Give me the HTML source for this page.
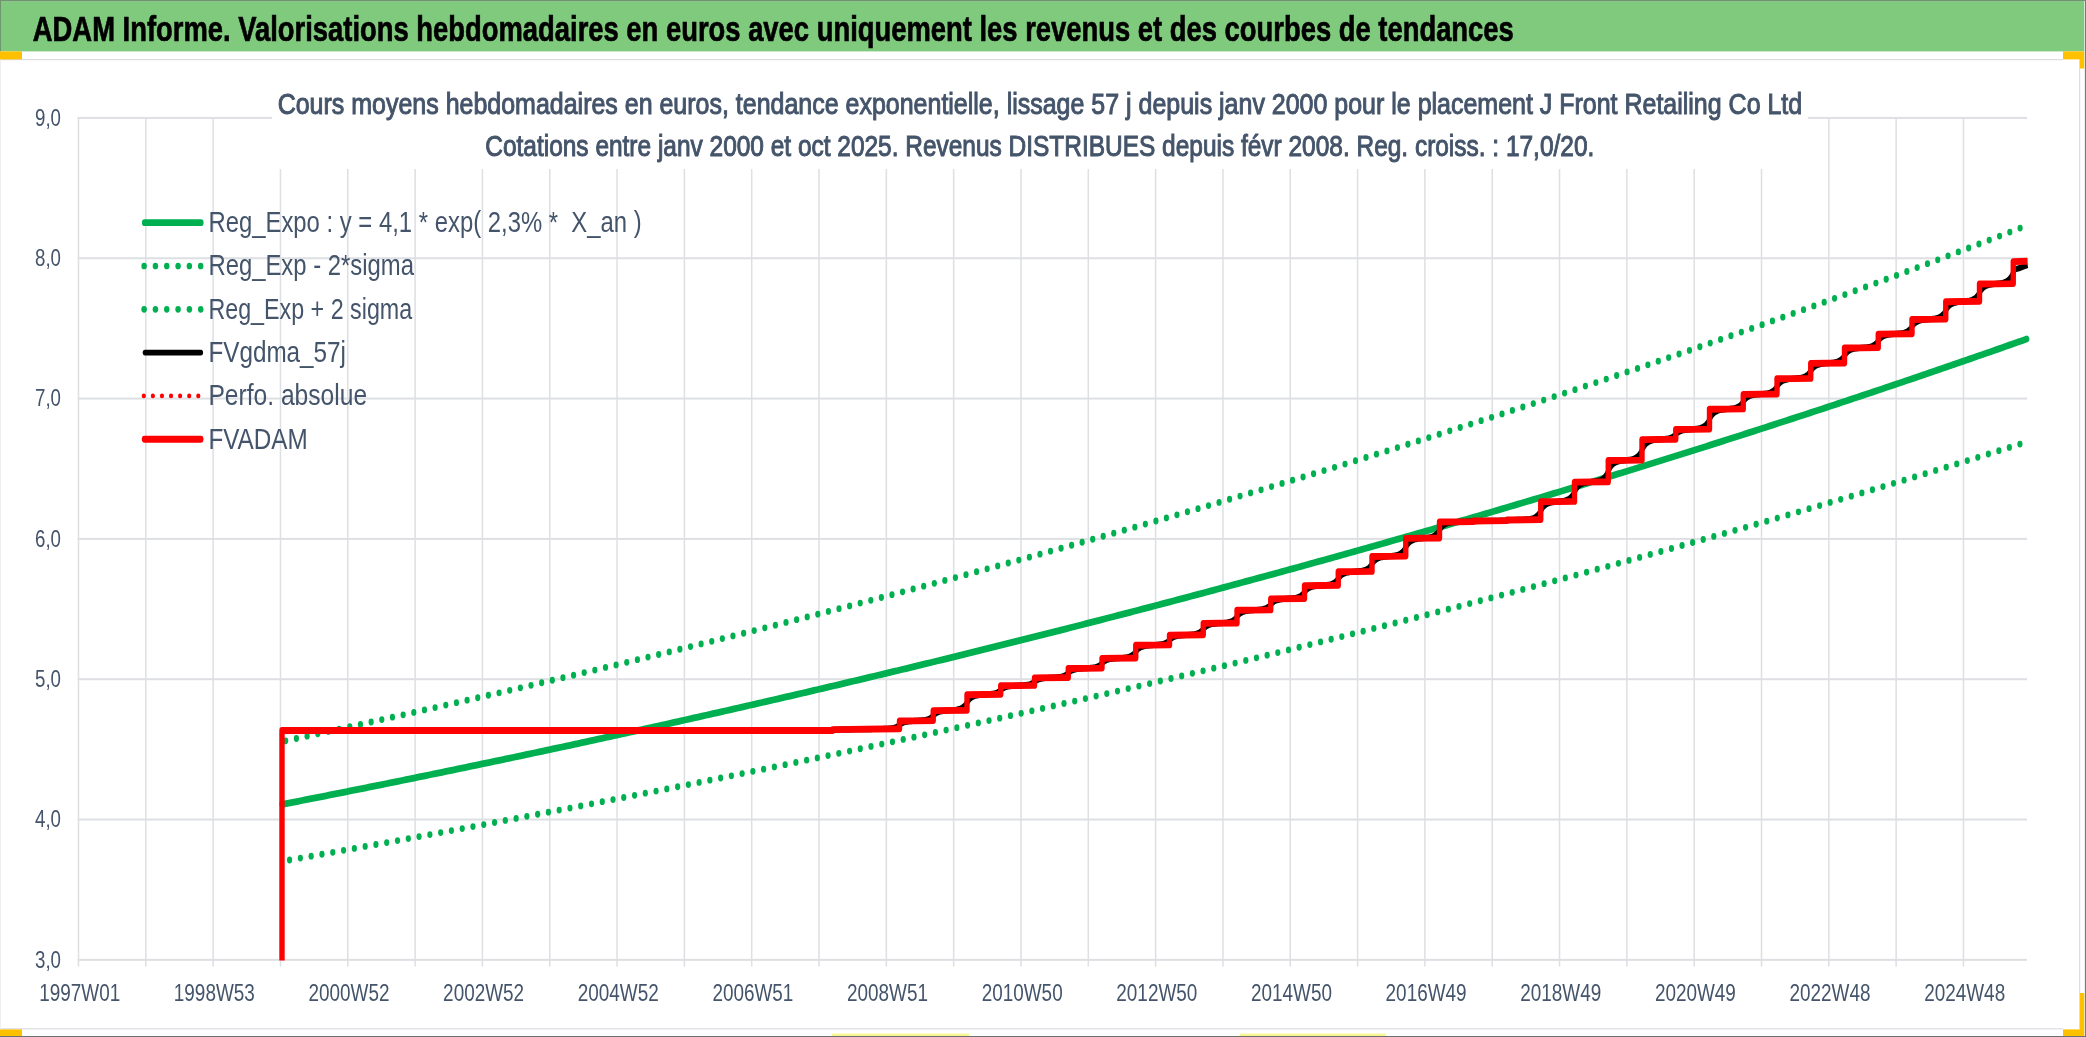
<!DOCTYPE html><html><head><meta charset="utf-8"><style>html,body{margin:0;padding:0;background:#fff;width:2086px;height:1037px;overflow:hidden}svg{display:block;will-change:transform}text{font-family:"Liberation Sans",sans-serif}</style></head><body>
<svg width="2086" height="1037" viewBox="0 0 2086 1037">
<rect x="0" y="0" width="2086" height="1037" fill="#fff"/>
<rect x="0" y="0" width="2085" height="51.4" fill="#80CA7E"/>
<rect x="0" y="0" width="2086" height="1" fill="#6F956F"/>
<rect x="0" y="1" width="2085" height="1" fill="#8FC28F"/>
<rect x="0" y="0" width="1" height="51.4" fill="#6F956F"/>
<text x="32.8" y="40.9" font-size="35.6" font-weight="bold" fill="#000" stroke="#000" stroke-width="0.7" textLength="1481" lengthAdjust="spacingAndGlyphs">ADAM Informe. Valorisations hebdomadaires en euros avec uniquement les revenus et des courbes de tendances</text>
<rect x="0" y="59" width="2063" height="1.2" fill="#DADCE0"/>
<rect x="0" y="1028.2" width="2063" height="1.2" fill="#DADCE0"/>
<rect x="2079" y="59" width="1.2" height="970" fill="#DADCE0"/>
<rect x="0" y="59" width="1" height="970" fill="#EEEEEE"/>
<rect x="0" y="51.4" width="22" height="8" fill="#FFC000"/>
<rect x="0" y="1029.4" width="22" height="6.6" fill="#FFC000"/>
<rect x="2063" y="51.4" width="22" height="8" fill="#FFC000"/>
<rect x="2080" y="59" width="5" height="9.5" fill="#FFC000"/>
<rect x="2063" y="1029.4" width="22" height="6.6" fill="#FFC000"/>
<rect x="2080" y="993" width="5" height="37" fill="#FFC000"/>
<rect x="2084.2" y="1" width="0.8" height="1036" fill="#E9EDE9"/>
<rect x="2085" y="0" width="1" height="1037" fill="#7A7A7A"/>
<rect x="0" y="1036" width="2086" height="1" fill="#6E6E6E"/>
<rect x="77.70" y="958.85" width="1949.30" height="2" fill="#DDDFE3"/>
<rect x="77.70" y="818.53" width="1949.30" height="2" fill="#DDDFE3"/>
<rect x="77.70" y="678.21" width="1949.30" height="2" fill="#DDDFE3"/>
<rect x="77.70" y="537.89" width="1949.30" height="2" fill="#DDDFE3"/>
<rect x="77.70" y="397.57" width="1949.30" height="2" fill="#DDDFE3"/>
<rect x="77.70" y="257.25" width="1949.30" height="2" fill="#DDDFE3"/>
<rect x="77.70" y="116.93" width="1949.30" height="2" fill="#DDDFE3"/>
<rect x="77.75" y="117" width="1.5" height="849.50" fill="#DDDFE3"/>
<rect x="145.07" y="117" width="1.5" height="849.50" fill="#DDDFE3"/>
<rect x="212.39" y="117" width="1.5" height="849.50" fill="#DDDFE3"/>
<rect x="279.71" y="117" width="1.5" height="849.50" fill="#DDDFE3"/>
<rect x="347.03" y="117" width="1.5" height="849.50" fill="#DDDFE3"/>
<rect x="414.35" y="117" width="1.5" height="849.50" fill="#DDDFE3"/>
<rect x="481.67" y="117" width="1.5" height="849.50" fill="#DDDFE3"/>
<rect x="548.99" y="117" width="1.5" height="849.50" fill="#DDDFE3"/>
<rect x="616.31" y="117" width="1.5" height="849.50" fill="#DDDFE3"/>
<rect x="683.63" y="117" width="1.5" height="849.50" fill="#DDDFE3"/>
<rect x="750.95" y="117" width="1.5" height="849.50" fill="#DDDFE3"/>
<rect x="818.27" y="117" width="1.5" height="849.50" fill="#DDDFE3"/>
<rect x="885.59" y="117" width="1.5" height="849.50" fill="#DDDFE3"/>
<rect x="952.91" y="117" width="1.5" height="849.50" fill="#DDDFE3"/>
<rect x="1020.23" y="117" width="1.5" height="849.50" fill="#DDDFE3"/>
<rect x="1087.55" y="117" width="1.5" height="849.50" fill="#DDDFE3"/>
<rect x="1154.87" y="117" width="1.5" height="849.50" fill="#DDDFE3"/>
<rect x="1222.19" y="117" width="1.5" height="849.50" fill="#DDDFE3"/>
<rect x="1289.51" y="117" width="1.5" height="849.50" fill="#DDDFE3"/>
<rect x="1356.83" y="117" width="1.5" height="849.50" fill="#DDDFE3"/>
<rect x="1424.15" y="117" width="1.5" height="849.50" fill="#DDDFE3"/>
<rect x="1491.47" y="117" width="1.5" height="849.50" fill="#DDDFE3"/>
<rect x="1558.79" y="117" width="1.5" height="849.50" fill="#DDDFE3"/>
<rect x="1626.11" y="117" width="1.5" height="849.50" fill="#DDDFE3"/>
<rect x="1693.43" y="117" width="1.5" height="849.50" fill="#DDDFE3"/>
<rect x="1760.75" y="117" width="1.5" height="849.50" fill="#DDDFE3"/>
<rect x="1828.07" y="117" width="1.5" height="849.50" fill="#DDDFE3"/>
<rect x="1895.39" y="117" width="1.5" height="849.50" fill="#DDDFE3"/>
<rect x="1962.71" y="117" width="1.5" height="849.50" fill="#DDDFE3"/>
<rect x="272" y="75" width="1536" height="94" fill="#fff"/>
<text x="277.7" y="113.9" font-size="29.2" font-weight="normal" stroke="#44546A" stroke-width="1.0" fill="#44546A" textLength="1524.5" lengthAdjust="spacingAndGlyphs">Cours moyens hebdomadaires en euros, tendance exponentielle, lissage 57 j depuis janv 2000 pour le placement J Front Retailing Co Ltd</text>
<text x="485.3" y="156.4" font-size="29.2" font-weight="normal" stroke="#44546A" stroke-width="1.0" fill="#44546A" textLength="1109" lengthAdjust="spacingAndGlyphs">Cotations entre janv 2000 et oct 2025. Revenus DISTRIBUES depuis févr 2008. Reg. croiss. : 17,0/20.</text>
<text x="61" y="967.70" font-size="23" fill="#44546A" text-anchor="end" textLength="26" lengthAdjust="spacingAndGlyphs">3,0</text>
<text x="61" y="827.37" font-size="23" fill="#44546A" text-anchor="end" textLength="26" lengthAdjust="spacingAndGlyphs">4,0</text>
<text x="61" y="687.04" font-size="23" fill="#44546A" text-anchor="end" textLength="26" lengthAdjust="spacingAndGlyphs">5,0</text>
<text x="61" y="546.71" font-size="23" fill="#44546A" text-anchor="end" textLength="26" lengthAdjust="spacingAndGlyphs">6,0</text>
<text x="61" y="406.38" font-size="23" fill="#44546A" text-anchor="end" textLength="26" lengthAdjust="spacingAndGlyphs">7,0</text>
<text x="61" y="266.05" font-size="23" fill="#44546A" text-anchor="end" textLength="26" lengthAdjust="spacingAndGlyphs">8,0</text>
<text x="61" y="125.72" font-size="23" fill="#44546A" text-anchor="end" textLength="26" lengthAdjust="spacingAndGlyphs">9,0</text>
<text x="79.70" y="1000.5" font-size="23" fill="#44546A" text-anchor="middle" textLength="81" lengthAdjust="spacingAndGlyphs">1997W01</text>
<text x="214.34" y="1000.5" font-size="23" fill="#44546A" text-anchor="middle" textLength="81" lengthAdjust="spacingAndGlyphs">1998W53</text>
<text x="348.98" y="1000.5" font-size="23" fill="#44546A" text-anchor="middle" textLength="81" lengthAdjust="spacingAndGlyphs">2000W52</text>
<text x="483.62" y="1000.5" font-size="23" fill="#44546A" text-anchor="middle" textLength="81" lengthAdjust="spacingAndGlyphs">2002W52</text>
<text x="618.26" y="1000.5" font-size="23" fill="#44546A" text-anchor="middle" textLength="81" lengthAdjust="spacingAndGlyphs">2004W52</text>
<text x="752.90" y="1000.5" font-size="23" fill="#44546A" text-anchor="middle" textLength="81" lengthAdjust="spacingAndGlyphs">2006W51</text>
<text x="887.54" y="1000.5" font-size="23" fill="#44546A" text-anchor="middle" textLength="81" lengthAdjust="spacingAndGlyphs">2008W51</text>
<text x="1022.18" y="1000.5" font-size="23" fill="#44546A" text-anchor="middle" textLength="81" lengthAdjust="spacingAndGlyphs">2010W50</text>
<text x="1156.82" y="1000.5" font-size="23" fill="#44546A" text-anchor="middle" textLength="81" lengthAdjust="spacingAndGlyphs">2012W50</text>
<text x="1291.46" y="1000.5" font-size="23" fill="#44546A" text-anchor="middle" textLength="81" lengthAdjust="spacingAndGlyphs">2014W50</text>
<text x="1426.10" y="1000.5" font-size="23" fill="#44546A" text-anchor="middle" textLength="81" lengthAdjust="spacingAndGlyphs">2016W49</text>
<text x="1560.74" y="1000.5" font-size="23" fill="#44546A" text-anchor="middle" textLength="81" lengthAdjust="spacingAndGlyphs">2018W49</text>
<text x="1695.38" y="1000.5" font-size="23" fill="#44546A" text-anchor="middle" textLength="81" lengthAdjust="spacingAndGlyphs">2020W49</text>
<text x="1830.02" y="1000.5" font-size="23" fill="#44546A" text-anchor="middle" textLength="81" lengthAdjust="spacingAndGlyphs">2022W48</text>
<text x="1964.66" y="1000.5" font-size="23" fill="#44546A" text-anchor="middle" textLength="81" lengthAdjust="spacingAndGlyphs">2024W48</text>
<g fill="#00B050">
<ellipse cx="285.70" cy="740.82" rx="2.6" ry="3.4"/><ellipse cx="296.40" cy="738.49" rx="2.6" ry="3.4"/><ellipse cx="307.10" cy="736.15" rx="2.6" ry="3.4"/><ellipse cx="317.75" cy="733.82" rx="2.6" ry="3.4"/><ellipse cx="328.45" cy="731.47" rx="2.6" ry="3.4"/><ellipse cx="339.10" cy="729.12" rx="2.6" ry="3.4"/><ellipse cx="349.80" cy="726.75" rx="2.6" ry="3.4"/><ellipse cx="360.45" cy="724.38" rx="2.6" ry="3.4"/><ellipse cx="371.15" cy="721.99" rx="2.6" ry="3.4"/><ellipse cx="381.80" cy="719.61" rx="2.6" ry="3.4"/><ellipse cx="392.45" cy="717.21" rx="2.6" ry="3.4"/><ellipse cx="403.15" cy="714.80" rx="2.6" ry="3.4"/><ellipse cx="413.80" cy="712.39" rx="2.6" ry="3.4"/><ellipse cx="424.45" cy="709.97" rx="2.6" ry="3.4"/><ellipse cx="435.10" cy="707.54" rx="2.6" ry="3.4"/><ellipse cx="445.80" cy="705.09" rx="2.6" ry="3.4"/><ellipse cx="456.45" cy="702.65" rx="2.6" ry="3.4"/><ellipse cx="467.10" cy="700.19" rx="2.6" ry="3.4"/><ellipse cx="477.75" cy="697.73" rx="2.6" ry="3.4"/><ellipse cx="488.40" cy="695.26" rx="2.6" ry="3.4"/><ellipse cx="499.05" cy="692.78" rx="2.6" ry="3.4"/><ellipse cx="509.70" cy="690.28" rx="2.6" ry="3.4"/><ellipse cx="520.35" cy="687.79" rx="2.6" ry="3.4"/><ellipse cx="531.00" cy="685.28" rx="2.6" ry="3.4"/><ellipse cx="541.65" cy="682.76" rx="2.6" ry="3.4"/><ellipse cx="552.30" cy="680.23" rx="2.6" ry="3.4"/><ellipse cx="562.95" cy="677.70" rx="2.6" ry="3.4"/><ellipse cx="573.55" cy="675.16" rx="2.6" ry="3.4"/><ellipse cx="584.20" cy="672.61" rx="2.6" ry="3.4"/><ellipse cx="594.85" cy="670.05" rx="2.6" ry="3.4"/><ellipse cx="605.50" cy="667.47" rx="2.6" ry="3.4"/><ellipse cx="616.10" cy="664.90" rx="2.6" ry="3.4"/><ellipse cx="626.75" cy="662.31" rx="2.6" ry="3.4"/><ellipse cx="637.40" cy="659.71" rx="2.6" ry="3.4"/><ellipse cx="648.00" cy="657.11" rx="2.6" ry="3.4"/><ellipse cx="658.65" cy="654.49" rx="2.6" ry="3.4"/><ellipse cx="669.25" cy="651.88" rx="2.6" ry="3.4"/><ellipse cx="679.90" cy="649.24" rx="2.6" ry="3.4"/><ellipse cx="690.50" cy="646.60" rx="2.6" ry="3.4"/><ellipse cx="701.10" cy="643.96" rx="2.6" ry="3.4"/><ellipse cx="711.75" cy="641.29" rx="2.6" ry="3.4"/><ellipse cx="722.35" cy="638.62" rx="2.6" ry="3.4"/><ellipse cx="732.95" cy="635.95" rx="2.6" ry="3.4"/><ellipse cx="743.60" cy="633.25" rx="2.6" ry="3.4"/><ellipse cx="754.20" cy="630.56" rx="2.6" ry="3.4"/><ellipse cx="764.80" cy="627.86" rx="2.6" ry="3.4"/><ellipse cx="775.40" cy="625.15" rx="2.6" ry="3.4"/><ellipse cx="786.00" cy="622.42" rx="2.6" ry="3.4"/><ellipse cx="796.60" cy="619.69" rx="2.6" ry="3.4"/><ellipse cx="807.20" cy="616.95" rx="2.6" ry="3.4"/><ellipse cx="817.80" cy="614.20" rx="2.6" ry="3.4"/><ellipse cx="828.40" cy="611.43" rx="2.6" ry="3.4"/><ellipse cx="839.00" cy="608.66" rx="2.6" ry="3.4"/><ellipse cx="849.60" cy="605.88" rx="2.6" ry="3.4"/><ellipse cx="860.20" cy="603.09" rx="2.6" ry="3.4"/><ellipse cx="870.80" cy="600.29" rx="2.6" ry="3.4"/><ellipse cx="881.35" cy="597.49" rx="2.6" ry="3.4"/><ellipse cx="891.95" cy="594.67" rx="2.6" ry="3.4"/><ellipse cx="902.55" cy="591.83" rx="2.6" ry="3.4"/><ellipse cx="913.10" cy="589.00" rx="2.6" ry="3.4"/><ellipse cx="923.70" cy="586.15" rx="2.6" ry="3.4"/><ellipse cx="934.30" cy="583.29" rx="2.6" ry="3.4"/><ellipse cx="944.85" cy="580.43" rx="2.6" ry="3.4"/><ellipse cx="955.40" cy="577.56" rx="2.6" ry="3.4"/><ellipse cx="966.00" cy="574.66" rx="2.6" ry="3.4"/><ellipse cx="976.55" cy="571.77" rx="2.6" ry="3.4"/><ellipse cx="987.15" cy="568.86" rx="2.6" ry="3.4"/><ellipse cx="997.70" cy="565.95" rx="2.6" ry="3.4"/><ellipse cx="1008.25" cy="563.02" rx="2.6" ry="3.4"/><ellipse cx="1018.80" cy="560.09" rx="2.6" ry="3.4"/><ellipse cx="1029.40" cy="557.13" rx="2.6" ry="3.4"/><ellipse cx="1039.95" cy="554.18" rx="2.6" ry="3.4"/><ellipse cx="1050.50" cy="551.22" rx="2.6" ry="3.4"/><ellipse cx="1061.05" cy="548.24" rx="2.6" ry="3.4"/><ellipse cx="1071.60" cy="545.26" rx="2.6" ry="3.4"/><ellipse cx="1082.15" cy="542.26" rx="2.6" ry="3.4"/><ellipse cx="1092.70" cy="539.25" rx="2.6" ry="3.4"/><ellipse cx="1103.20" cy="536.25" rx="2.6" ry="3.4"/><ellipse cx="1113.75" cy="533.22" rx="2.6" ry="3.4"/><ellipse cx="1124.30" cy="530.18" rx="2.6" ry="3.4"/><ellipse cx="1134.85" cy="527.13" rx="2.6" ry="3.4"/><ellipse cx="1145.35" cy="524.08" rx="2.6" ry="3.4"/><ellipse cx="1155.90" cy="521.01" rx="2.6" ry="3.4"/><ellipse cx="1166.40" cy="517.94" rx="2.6" ry="3.4"/><ellipse cx="1176.95" cy="514.85" rx="2.6" ry="3.4"/><ellipse cx="1187.45" cy="511.76" rx="2.6" ry="3.4"/><ellipse cx="1198.00" cy="508.64" rx="2.6" ry="3.4"/><ellipse cx="1208.50" cy="505.53" rx="2.6" ry="3.4"/><ellipse cx="1219.05" cy="502.39" rx="2.6" ry="3.4"/><ellipse cx="1229.55" cy="499.26" rx="2.6" ry="3.4"/><ellipse cx="1240.05" cy="496.11" rx="2.6" ry="3.4"/><ellipse cx="1250.55" cy="492.95" rx="2.6" ry="3.4"/><ellipse cx="1261.05" cy="489.78" rx="2.6" ry="3.4"/><ellipse cx="1271.55" cy="486.60" rx="2.6" ry="3.4"/><ellipse cx="1282.05" cy="483.41" rx="2.6" ry="3.4"/><ellipse cx="1292.55" cy="480.21" rx="2.6" ry="3.4"/><ellipse cx="1303.05" cy="476.99" rx="2.6" ry="3.4"/><ellipse cx="1313.55" cy="473.77" rx="2.6" ry="3.4"/><ellipse cx="1324.05" cy="470.53" rx="2.6" ry="3.4"/><ellipse cx="1334.55" cy="467.28" rx="2.6" ry="3.4"/><ellipse cx="1345.00" cy="464.04" rx="2.6" ry="3.4"/><ellipse cx="1355.50" cy="460.77" rx="2.6" ry="3.4"/><ellipse cx="1366.00" cy="457.48" rx="2.6" ry="3.4"/><ellipse cx="1376.45" cy="454.20" rx="2.6" ry="3.4"/><ellipse cx="1386.95" cy="450.90" rx="2.6" ry="3.4"/><ellipse cx="1397.40" cy="447.59" rx="2.6" ry="3.4"/><ellipse cx="1407.90" cy="444.26" rx="2.6" ry="3.4"/><ellipse cx="1418.35" cy="440.93" rx="2.6" ry="3.4"/><ellipse cx="1428.80" cy="437.60" rx="2.6" ry="3.4"/><ellipse cx="1439.25" cy="434.25" rx="2.6" ry="3.4"/><ellipse cx="1449.75" cy="430.87" rx="2.6" ry="3.4"/><ellipse cx="1460.20" cy="427.49" rx="2.6" ry="3.4"/><ellipse cx="1470.65" cy="424.11" rx="2.6" ry="3.4"/><ellipse cx="1481.10" cy="420.71" rx="2.6" ry="3.4"/><ellipse cx="1491.55" cy="417.30" rx="2.6" ry="3.4"/><ellipse cx="1502.00" cy="413.88" rx="2.6" ry="3.4"/><ellipse cx="1512.40" cy="410.46" rx="2.6" ry="3.4"/><ellipse cx="1522.85" cy="407.01" rx="2.6" ry="3.4"/><ellipse cx="1533.30" cy="403.55" rx="2.6" ry="3.4"/><ellipse cx="1543.70" cy="400.10" rx="2.6" ry="3.4"/><ellipse cx="1554.15" cy="396.61" rx="2.6" ry="3.4"/><ellipse cx="1564.60" cy="393.12" rx="2.6" ry="3.4"/><ellipse cx="1575.00" cy="389.63" rx="2.6" ry="3.4"/><ellipse cx="1585.40" cy="386.12" rx="2.6" ry="3.4"/><ellipse cx="1595.85" cy="382.59" rx="2.6" ry="3.4"/><ellipse cx="1606.25" cy="379.06" rx="2.6" ry="3.4"/><ellipse cx="1616.65" cy="375.52" rx="2.6" ry="3.4"/><ellipse cx="1627.05" cy="371.96" rx="2.6" ry="3.4"/><ellipse cx="1637.50" cy="368.38" rx="2.6" ry="3.4"/><ellipse cx="1647.90" cy="364.80" rx="2.6" ry="3.4"/><ellipse cx="1658.30" cy="361.21" rx="2.6" ry="3.4"/><ellipse cx="1668.65" cy="357.62" rx="2.6" ry="3.4"/><ellipse cx="1679.05" cy="354.01" rx="2.6" ry="3.4"/><ellipse cx="1689.45" cy="350.38" rx="2.6" ry="3.4"/><ellipse cx="1699.85" cy="346.73" rx="2.6" ry="3.4"/><ellipse cx="1710.20" cy="343.10" rx="2.6" ry="3.4"/><ellipse cx="1720.60" cy="339.43" rx="2.6" ry="3.4"/><ellipse cx="1730.95" cy="335.76" rx="2.6" ry="3.4"/><ellipse cx="1741.35" cy="332.07" rx="2.6" ry="3.4"/><ellipse cx="1751.70" cy="328.38" rx="2.6" ry="3.4"/><ellipse cx="1762.10" cy="324.66" rx="2.6" ry="3.4"/><ellipse cx="1772.45" cy="320.94" rx="2.6" ry="3.4"/><ellipse cx="1782.80" cy="317.21" rx="2.6" ry="3.4"/><ellipse cx="1793.15" cy="313.47" rx="2.6" ry="3.4"/><ellipse cx="1803.50" cy="309.72" rx="2.6" ry="3.4"/><ellipse cx="1813.85" cy="305.95" rx="2.6" ry="3.4"/><ellipse cx="1824.20" cy="302.17" rx="2.6" ry="3.4"/><ellipse cx="1834.55" cy="298.37" rx="2.6" ry="3.4"/><ellipse cx="1844.90" cy="294.56" rx="2.6" ry="3.4"/><ellipse cx="1855.20" cy="290.76" rx="2.6" ry="3.4"/><ellipse cx="1865.55" cy="286.93" rx="2.6" ry="3.4"/><ellipse cx="1875.90" cy="283.08" rx="2.6" ry="3.4"/><ellipse cx="1886.20" cy="279.23" rx="2.6" ry="3.4"/><ellipse cx="1896.50" cy="275.38" rx="2.6" ry="3.4"/><ellipse cx="1906.85" cy="271.49" rx="2.6" ry="3.4"/><ellipse cx="1917.15" cy="267.60" rx="2.6" ry="3.4"/><ellipse cx="1927.45" cy="263.71" rx="2.6" ry="3.4"/><ellipse cx="1937.75" cy="259.80" rx="2.6" ry="3.4"/><ellipse cx="1948.05" cy="255.87" rx="2.6" ry="3.4"/><ellipse cx="1958.35" cy="251.93" rx="2.6" ry="3.4"/><ellipse cx="1968.65" cy="247.98" rx="2.6" ry="3.4"/><ellipse cx="1978.95" cy="244.01" rx="2.6" ry="3.4"/><ellipse cx="1989.25" cy="240.03" rx="2.6" ry="3.4"/><ellipse cx="1999.55" cy="236.04" rx="2.6" ry="3.4"/><ellipse cx="2009.80" cy="232.05" rx="2.6" ry="3.4"/><ellipse cx="2020.10" cy="228.03" rx="2.6" ry="3.4"/>
<ellipse cx="289.56" cy="860.00" rx="2.6" ry="3.4"/><ellipse cx="300.36" cy="858.09" rx="2.6" ry="3.4"/><ellipse cx="311.16" cy="856.17" rx="2.6" ry="3.4"/><ellipse cx="321.96" cy="854.25" rx="2.6" ry="3.4"/><ellipse cx="332.76" cy="852.31" rx="2.6" ry="3.4"/><ellipse cx="343.56" cy="850.37" rx="2.6" ry="3.4"/><ellipse cx="354.36" cy="848.43" rx="2.6" ry="3.4"/><ellipse cx="365.16" cy="846.47" rx="2.6" ry="3.4"/><ellipse cx="375.91" cy="844.52" rx="2.6" ry="3.4"/><ellipse cx="386.71" cy="842.55" rx="2.6" ry="3.4"/><ellipse cx="397.51" cy="840.58" rx="2.6" ry="3.4"/><ellipse cx="408.31" cy="838.59" rx="2.6" ry="3.4"/><ellipse cx="419.06" cy="836.61" rx="2.6" ry="3.4"/><ellipse cx="429.86" cy="834.62" rx="2.6" ry="3.4"/><ellipse cx="440.66" cy="832.61" rx="2.6" ry="3.4"/><ellipse cx="451.41" cy="830.61" rx="2.6" ry="3.4"/><ellipse cx="462.21" cy="828.59" rx="2.6" ry="3.4"/><ellipse cx="472.96" cy="826.57" rx="2.6" ry="3.4"/><ellipse cx="483.76" cy="824.54" rx="2.6" ry="3.4"/><ellipse cx="494.56" cy="822.49" rx="2.6" ry="3.4"/><ellipse cx="505.31" cy="820.46" rx="2.6" ry="3.4"/><ellipse cx="516.11" cy="818.40" rx="2.6" ry="3.4"/><ellipse cx="526.86" cy="816.34" rx="2.6" ry="3.4"/><ellipse cx="537.66" cy="814.27" rx="2.6" ry="3.4"/><ellipse cx="548.41" cy="812.20" rx="2.6" ry="3.4"/><ellipse cx="559.16" cy="810.12" rx="2.6" ry="3.4"/><ellipse cx="569.96" cy="808.03" rx="2.6" ry="3.4"/><ellipse cx="580.71" cy="805.94" rx="2.6" ry="3.4"/><ellipse cx="591.51" cy="803.83" rx="2.6" ry="3.4"/><ellipse cx="602.26" cy="801.72" rx="2.6" ry="3.4"/><ellipse cx="613.01" cy="799.60" rx="2.6" ry="3.4"/><ellipse cx="623.76" cy="797.48" rx="2.6" ry="3.4"/><ellipse cx="634.56" cy="795.34" rx="2.6" ry="3.4"/><ellipse cx="645.31" cy="793.20" rx="2.6" ry="3.4"/><ellipse cx="656.06" cy="791.05" rx="2.6" ry="3.4"/><ellipse cx="666.81" cy="788.90" rx="2.6" ry="3.4"/><ellipse cx="677.61" cy="786.73" rx="2.6" ry="3.4"/><ellipse cx="688.36" cy="784.56" rx="2.6" ry="3.4"/><ellipse cx="699.11" cy="782.38" rx="2.6" ry="3.4"/><ellipse cx="709.86" cy="780.19" rx="2.6" ry="3.4"/><ellipse cx="720.61" cy="778.00" rx="2.6" ry="3.4"/><ellipse cx="731.36" cy="775.79" rx="2.6" ry="3.4"/><ellipse cx="742.11" cy="773.58" rx="2.6" ry="3.4"/><ellipse cx="752.86" cy="771.36" rx="2.6" ry="3.4"/><ellipse cx="763.61" cy="769.14" rx="2.6" ry="3.4"/><ellipse cx="774.36" cy="766.90" rx="2.6" ry="3.4"/><ellipse cx="785.11" cy="764.66" rx="2.6" ry="3.4"/><ellipse cx="795.86" cy="762.41" rx="2.6" ry="3.4"/><ellipse cx="806.61" cy="760.15" rx="2.6" ry="3.4"/><ellipse cx="817.31" cy="757.89" rx="2.6" ry="3.4"/><ellipse cx="828.06" cy="755.62" rx="2.6" ry="3.4"/><ellipse cx="838.81" cy="753.33" rx="2.6" ry="3.4"/><ellipse cx="849.56" cy="751.04" rx="2.6" ry="3.4"/><ellipse cx="860.26" cy="748.75" rx="2.6" ry="3.4"/><ellipse cx="871.01" cy="746.44" rx="2.6" ry="3.4"/><ellipse cx="881.76" cy="744.12" rx="2.6" ry="3.4"/><ellipse cx="892.46" cy="741.81" rx="2.6" ry="3.4"/><ellipse cx="903.21" cy="739.47" rx="2.6" ry="3.4"/><ellipse cx="913.96" cy="737.13" rx="2.6" ry="3.4"/><ellipse cx="924.66" cy="734.79" rx="2.6" ry="3.4"/><ellipse cx="935.41" cy="732.43" rx="2.6" ry="3.4"/><ellipse cx="946.11" cy="730.07" rx="2.6" ry="3.4"/><ellipse cx="956.86" cy="727.69" rx="2.6" ry="3.4"/><ellipse cx="967.56" cy="725.32" rx="2.6" ry="3.4"/><ellipse cx="978.31" cy="722.92" rx="2.6" ry="3.4"/><ellipse cx="989.01" cy="720.53" rx="2.6" ry="3.4"/><ellipse cx="999.71" cy="718.13" rx="2.6" ry="3.4"/><ellipse cx="1010.46" cy="715.71" rx="2.6" ry="3.4"/><ellipse cx="1021.16" cy="713.29" rx="2.6" ry="3.4"/><ellipse cx="1031.86" cy="710.86" rx="2.6" ry="3.4"/><ellipse cx="1042.56" cy="708.43" rx="2.6" ry="3.4"/><ellipse cx="1053.31" cy="705.97" rx="2.6" ry="3.4"/><ellipse cx="1064.01" cy="703.51" rx="2.6" ry="3.4"/><ellipse cx="1074.71" cy="701.05" rx="2.6" ry="3.4"/><ellipse cx="1085.41" cy="698.58" rx="2.6" ry="3.4"/><ellipse cx="1096.11" cy="696.10" rx="2.6" ry="3.4"/><ellipse cx="1106.81" cy="693.61" rx="2.6" ry="3.4"/><ellipse cx="1117.51" cy="691.11" rx="2.6" ry="3.4"/><ellipse cx="1128.21" cy="688.60" rx="2.6" ry="3.4"/><ellipse cx="1138.91" cy="686.08" rx="2.6" ry="3.4"/><ellipse cx="1149.61" cy="683.56" rx="2.6" ry="3.4"/><ellipse cx="1160.31" cy="681.02" rx="2.6" ry="3.4"/><ellipse cx="1171.01" cy="678.48" rx="2.6" ry="3.4"/><ellipse cx="1181.66" cy="675.93" rx="2.6" ry="3.4"/><ellipse cx="1192.36" cy="673.37" rx="2.6" ry="3.4"/><ellipse cx="1203.06" cy="670.80" rx="2.6" ry="3.4"/><ellipse cx="1213.76" cy="668.22" rx="2.6" ry="3.4"/><ellipse cx="1224.41" cy="665.64" rx="2.6" ry="3.4"/><ellipse cx="1235.11" cy="663.03" rx="2.6" ry="3.4"/><ellipse cx="1245.81" cy="660.42" rx="2.6" ry="3.4"/><ellipse cx="1256.46" cy="657.82" rx="2.6" ry="3.4"/><ellipse cx="1267.16" cy="655.19" rx="2.6" ry="3.4"/><ellipse cx="1277.81" cy="652.56" rx="2.6" ry="3.4"/><ellipse cx="1288.51" cy="649.91" rx="2.6" ry="3.4"/><ellipse cx="1299.16" cy="647.27" rx="2.6" ry="3.4"/><ellipse cx="1309.86" cy="644.60" rx="2.6" ry="3.4"/><ellipse cx="1320.51" cy="641.93" rx="2.6" ry="3.4"/><ellipse cx="1331.16" cy="639.26" rx="2.6" ry="3.4"/><ellipse cx="1341.81" cy="636.57" rx="2.6" ry="3.4"/><ellipse cx="1352.51" cy="633.87" rx="2.6" ry="3.4"/><ellipse cx="1363.16" cy="631.16" rx="2.6" ry="3.4"/><ellipse cx="1373.81" cy="628.45" rx="2.6" ry="3.4"/><ellipse cx="1384.46" cy="625.73" rx="2.6" ry="3.4"/><ellipse cx="1395.11" cy="622.99" rx="2.6" ry="3.4"/><ellipse cx="1405.76" cy="620.25" rx="2.6" ry="3.4"/><ellipse cx="1416.41" cy="617.50" rx="2.6" ry="3.4"/><ellipse cx="1427.06" cy="614.73" rx="2.6" ry="3.4"/><ellipse cx="1437.71" cy="611.96" rx="2.6" ry="3.4"/><ellipse cx="1448.36" cy="609.18" rx="2.6" ry="3.4"/><ellipse cx="1459.01" cy="606.38" rx="2.6" ry="3.4"/><ellipse cx="1469.66" cy="603.58" rx="2.6" ry="3.4"/><ellipse cx="1480.31" cy="600.77" rx="2.6" ry="3.4"/><ellipse cx="1490.91" cy="597.96" rx="2.6" ry="3.4"/><ellipse cx="1501.56" cy="595.12" rx="2.6" ry="3.4"/><ellipse cx="1512.21" cy="592.28" rx="2.6" ry="3.4"/><ellipse cx="1522.81" cy="589.44" rx="2.6" ry="3.4"/><ellipse cx="1533.46" cy="586.57" rx="2.6" ry="3.4"/><ellipse cx="1544.11" cy="583.70" rx="2.6" ry="3.4"/><ellipse cx="1554.71" cy="580.83" rx="2.6" ry="3.4"/><ellipse cx="1565.31" cy="577.94" rx="2.6" ry="3.4"/><ellipse cx="1575.96" cy="575.04" rx="2.6" ry="3.4"/><ellipse cx="1586.56" cy="572.14" rx="2.6" ry="3.4"/><ellipse cx="1597.21" cy="569.21" rx="2.6" ry="3.4"/><ellipse cx="1607.81" cy="566.28" rx="2.6" ry="3.4"/><ellipse cx="1618.41" cy="563.35" rx="2.6" ry="3.4"/><ellipse cx="1629.01" cy="560.40" rx="2.6" ry="3.4"/><ellipse cx="1639.61" cy="557.45" rx="2.6" ry="3.4"/><ellipse cx="1650.26" cy="554.47" rx="2.6" ry="3.4"/><ellipse cx="1660.86" cy="551.49" rx="2.6" ry="3.4"/><ellipse cx="1671.46" cy="548.50" rx="2.6" ry="3.4"/><ellipse cx="1682.06" cy="545.50" rx="2.6" ry="3.4"/><ellipse cx="1692.61" cy="542.51" rx="2.6" ry="3.4"/><ellipse cx="1703.21" cy="539.49" rx="2.6" ry="3.4"/><ellipse cx="1713.81" cy="536.46" rx="2.6" ry="3.4"/><ellipse cx="1724.41" cy="533.41" rx="2.6" ry="3.4"/><ellipse cx="1735.01" cy="530.36" rx="2.6" ry="3.4"/><ellipse cx="1745.56" cy="527.31" rx="2.6" ry="3.4"/><ellipse cx="1756.16" cy="524.24" rx="2.6" ry="3.4"/><ellipse cx="1766.76" cy="521.15" rx="2.6" ry="3.4"/><ellipse cx="1777.31" cy="518.07" rx="2.6" ry="3.4"/><ellipse cx="1787.91" cy="514.96" rx="2.6" ry="3.4"/><ellipse cx="1798.46" cy="511.85" rx="2.6" ry="3.4"/><ellipse cx="1809.06" cy="508.72" rx="2.6" ry="3.4"/><ellipse cx="1819.61" cy="505.60" rx="2.6" ry="3.4"/><ellipse cx="1830.16" cy="502.46" rx="2.6" ry="3.4"/><ellipse cx="1840.71" cy="499.31" rx="2.6" ry="3.4"/><ellipse cx="1851.31" cy="496.13" rx="2.6" ry="3.4"/><ellipse cx="1861.86" cy="492.96" rx="2.6" ry="3.4"/><ellipse cx="1872.41" cy="489.77" rx="2.6" ry="3.4"/><ellipse cx="1882.96" cy="486.58" rx="2.6" ry="3.4"/><ellipse cx="1893.51" cy="483.37" rx="2.6" ry="3.4"/><ellipse cx="1904.06" cy="480.15" rx="2.6" ry="3.4"/><ellipse cx="1914.61" cy="476.92" rx="2.6" ry="3.4"/><ellipse cx="1925.16" cy="473.68" rx="2.6" ry="3.4"/><ellipse cx="1935.66" cy="470.45" rx="2.6" ry="3.4"/><ellipse cx="1946.21" cy="467.18" rx="2.6" ry="3.4"/><ellipse cx="1956.76" cy="463.90" rx="2.6" ry="3.4"/><ellipse cx="1967.31" cy="460.62" rx="2.6" ry="3.4"/><ellipse cx="1977.81" cy="457.33" rx="2.6" ry="3.4"/><ellipse cx="1988.36" cy="454.02" rx="2.6" ry="3.4"/><ellipse cx="1998.86" cy="450.71" rx="2.6" ry="3.4"/><ellipse cx="2009.36" cy="447.39" rx="2.6" ry="3.4"/><ellipse cx="2019.91" cy="444.05" rx="2.6" ry="3.4"/>
<ellipse cx="144.10" cy="266.0" rx="2.75" ry="3.35"/><ellipse cx="155.42" cy="266.0" rx="2.75" ry="3.35"/><ellipse cx="166.74" cy="266.0" rx="2.75" ry="3.35"/><ellipse cx="178.06" cy="266.0" rx="2.75" ry="3.35"/><ellipse cx="189.38" cy="266.0" rx="2.75" ry="3.35"/><ellipse cx="200.70" cy="266.0" rx="2.75" ry="3.35"/>
<ellipse cx="144.10" cy="309.3" rx="2.75" ry="3.35"/><ellipse cx="155.42" cy="309.3" rx="2.75" ry="3.35"/><ellipse cx="166.74" cy="309.3" rx="2.75" ry="3.35"/><ellipse cx="178.06" cy="309.3" rx="2.75" ry="3.35"/><ellipse cx="189.38" cy="309.3" rx="2.75" ry="3.35"/><ellipse cx="200.70" cy="309.3" rx="2.75" ry="3.35"/>
</g>
<g fill="#FF0000"><ellipse cx="143.80" cy="395.9" rx="2.1" ry="2.3"/><ellipse cx="152.88" cy="395.9" rx="2.1" ry="2.3"/><ellipse cx="161.96" cy="395.9" rx="2.1" ry="2.3"/><ellipse cx="171.04" cy="395.9" rx="2.1" ry="2.3"/><ellipse cx="180.12" cy="395.9" rx="2.1" ry="2.3"/><ellipse cx="189.20" cy="395.9" rx="2.1" ry="2.3"/><ellipse cx="198.28" cy="395.9" rx="2.1" ry="2.3"/></g>
<g transform="scale(0.78,1)" fill="none" stroke-linejoin="round">
<path d="M361.54,804.44 L366.67,803.65 L371.79,802.87 L376.92,802.08 L382.05,801.30 L387.18,800.51 L392.31,799.72 L397.44,798.93 L402.56,798.14 L407.69,797.35 L412.82,796.56 L417.95,795.77 L423.08,794.97 L428.21,794.18 L433.33,793.38 L438.46,792.58 L443.59,791.78 L448.72,790.98 L453.85,790.18 L458.97,789.38 L464.10,788.58 L469.23,787.77 L474.36,786.97 L479.49,786.16 L484.62,785.36 L489.74,784.55 L494.87,783.74 L500.00,782.93 L505.13,782.11 L510.26,781.30 L515.38,780.49 L520.51,779.67 L525.64,778.86 L530.77,778.04 L535.90,777.22 L541.03,776.40 L546.15,775.58 L551.28,774.76 L556.41,773.94 L561.54,773.11 L566.67,772.29 L571.79,771.46 L576.92,770.63 L582.05,769.80 L587.18,768.97 L592.31,768.14 L597.44,767.31 L602.56,766.48 L607.69,765.64 L612.82,764.81 L617.95,763.97 L623.08,763.13 L628.21,762.30 L633.33,761.46 L638.46,760.61 L643.59,759.77 L648.72,758.93 L653.85,758.08 L658.97,757.24 L664.10,756.39 L669.23,755.54 L674.36,754.70 L679.49,753.85 L684.62,752.99 L689.74,752.14 L694.87,751.29 L700.00,750.43 L705.13,749.58 L710.26,748.72 L715.38,747.86 L720.51,747.00 L725.64,746.14 L730.77,745.28 L735.90,744.42 L741.03,743.55 L746.15,742.69 L751.28,741.82 L756.41,740.95 L761.54,740.08 L766.67,739.21 L771.79,738.34 L776.92,737.47 L782.05,736.60 L787.18,735.72 L792.31,734.85 L797.44,733.97 L802.56,733.09 L807.69,732.21 L812.82,731.33 L817.95,730.45 L823.08,729.56 L828.21,728.68 L833.33,727.79 L838.46,726.91 L843.59,726.02 L848.72,725.13 L853.85,724.24 L858.97,723.35 L864.10,722.46 L869.23,721.56 L874.36,720.67 L879.49,719.77 L884.62,718.87 L889.74,717.97 L894.87,717.07 L900.00,716.17 L905.13,715.27 L910.26,714.37 L915.38,713.46 L920.51,712.55 L925.64,711.65 L930.77,710.74 L935.90,709.83 L941.03,708.92 L946.15,708.01 L951.28,707.09 L956.41,706.18 L961.54,705.26 L966.67,704.34 L971.79,703.42 L976.92,702.50 L982.05,701.58 L987.18,700.66 L992.31,699.74 L997.44,698.81 L1002.56,697.89 L1007.69,696.96 L1012.82,696.03 L1017.95,695.10 L1023.08,694.17 L1028.21,693.24 L1033.33,692.30 L1038.46,691.37 L1043.59,690.43 L1048.72,689.49 L1053.85,688.56 L1058.97,687.62 L1064.10,686.67 L1069.23,685.73 L1074.36,684.79 L1079.49,683.84 L1084.62,682.90 L1089.74,681.95 L1094.87,681.00 L1100.00,680.05 L1105.13,679.10 L1110.26,678.14 L1115.38,677.19 L1120.51,676.23 L1125.64,675.28 L1130.77,674.32 L1135.90,673.36 L1141.03,672.40 L1146.15,671.44 L1151.28,670.47 L1156.41,669.51 L1161.54,668.54 L1166.67,667.58 L1171.79,666.61 L1176.92,665.64 L1182.05,664.67 L1187.18,663.69 L1192.31,662.72 L1197.44,661.74 L1202.56,660.77 L1207.69,659.79 L1212.82,658.81 L1217.95,657.83 L1223.08,656.85 L1228.21,655.87 L1233.33,654.88 L1238.46,653.90 L1243.59,652.91 L1248.72,651.92 L1253.85,650.93 L1258.97,649.94 L1264.10,648.95 L1269.23,647.95 L1274.36,646.96 L1279.49,645.96 L1284.62,644.96 L1289.74,643.96 L1294.87,642.96 L1300.00,641.96 L1305.13,640.96 L1310.26,639.95 L1315.38,638.95 L1320.51,637.94 L1325.64,636.93 L1330.77,635.92 L1335.90,634.91 L1341.03,633.90 L1346.15,632.88 L1351.28,631.87 L1356.41,630.85 L1361.54,629.83 L1366.67,628.81 L1371.79,627.79 L1376.92,626.77 L1382.05,625.74 L1387.18,624.72 L1392.31,623.69 L1397.44,622.66 L1402.56,621.63 L1407.69,620.60 L1412.82,619.57 L1417.95,618.53 L1423.08,617.50 L1428.21,616.46 L1433.33,615.43 L1438.46,614.39 L1443.59,613.34 L1448.72,612.30 L1453.85,611.26 L1458.97,610.21 L1464.10,609.17 L1469.23,608.12 L1474.36,607.07 L1479.49,606.02 L1484.62,604.97 L1489.74,603.91 L1494.87,602.86 L1500.00,601.80 L1505.13,600.74 L1510.26,599.68 L1515.38,598.62 L1520.51,597.56 L1525.64,596.50 L1530.77,595.43 L1535.90,594.37 L1541.03,593.30 L1546.15,592.23 L1551.28,591.16 L1556.41,590.09 L1561.54,589.01 L1566.67,587.94 L1571.79,586.86 L1576.92,585.78 L1582.05,584.70 L1587.18,583.62 L1592.31,582.54 L1597.44,581.45 L1602.56,580.37 L1607.69,579.28 L1612.82,578.19 L1617.95,577.10 L1623.08,576.01 L1628.21,574.92 L1633.33,573.82 L1638.46,572.73 L1643.59,571.63 L1648.72,570.53 L1653.85,569.43 L1658.97,568.33 L1664.10,567.23 L1669.23,566.12 L1674.36,565.01 L1679.49,563.91 L1684.62,562.80 L1689.74,561.69 L1694.87,560.57 L1700.00,559.46 L1705.13,558.34 L1710.26,557.23 L1715.38,556.11 L1720.51,554.99 L1725.64,553.87 L1730.77,552.74 L1735.90,551.62 L1741.03,550.49 L1746.15,549.37 L1751.28,548.24 L1756.41,547.11 L1761.54,545.97 L1766.67,544.84 L1771.79,543.70 L1776.92,542.57 L1782.05,541.43 L1787.18,540.29 L1792.31,539.15 L1797.44,538.00 L1802.56,536.86 L1807.69,535.71 L1812.82,534.57 L1817.95,533.42 L1823.08,532.27 L1828.21,531.11 L1833.33,529.96 L1838.46,528.80 L1843.59,527.65 L1848.72,526.49 L1853.85,525.33 L1858.97,524.17 L1864.10,523.00 L1869.23,521.84 L1874.36,520.67 L1879.49,519.50 L1884.62,518.33 L1889.74,517.16 L1894.87,515.99 L1900.00,514.81 L1905.13,513.64 L1910.26,512.46 L1915.38,511.28 L1920.51,510.10 L1925.64,508.92 L1930.77,507.73 L1935.90,506.55 L1941.03,505.36 L1946.15,504.17 L1951.28,502.98 L1956.41,501.79 L1961.54,500.59 L1966.67,499.40 L1971.79,498.20 L1976.92,497.00 L1982.05,495.80 L1987.18,494.60 L1992.31,493.40 L1997.44,492.19 L2002.56,490.99 L2007.69,489.78 L2012.82,488.57 L2017.95,487.35 L2023.08,486.14 L2028.21,484.93 L2033.33,483.71 L2038.46,482.49 L2043.59,481.27 L2048.72,480.05 L2053.85,478.83 L2058.97,477.60 L2064.10,476.37 L2069.23,475.15 L2074.36,473.92 L2079.49,472.68 L2084.62,471.45 L2089.74,470.22 L2094.87,468.98 L2100.00,467.74 L2105.13,466.50 L2110.26,465.26 L2115.38,464.02 L2120.51,462.77 L2125.64,461.52 L2130.77,460.28 L2135.90,459.02 L2141.03,457.77 L2146.15,456.52 L2151.28,455.26 L2156.41,454.01 L2161.54,452.75 L2166.67,451.49 L2171.79,450.23 L2176.92,448.96 L2182.05,447.70 L2187.18,446.43 L2192.31,445.16 L2197.44,443.89 L2202.56,442.62 L2207.69,441.34 L2212.82,440.07 L2217.95,438.79 L2223.08,437.51 L2228.21,436.23 L2233.33,434.95 L2238.46,433.66 L2243.59,432.37 L2248.72,431.09 L2253.85,429.80 L2258.97,428.50 L2264.10,427.21 L2269.23,425.92 L2274.36,424.62 L2279.49,423.32 L2284.62,422.02 L2289.74,420.72 L2294.87,419.41 L2300.00,418.11 L2305.13,416.80 L2310.26,415.49 L2315.38,414.18 L2320.51,412.87 L2325.64,411.55 L2330.77,410.24 L2335.90,408.92 L2341.03,407.60 L2346.15,406.28 L2351.28,404.95 L2356.41,403.63 L2361.54,402.30 L2366.67,400.97 L2371.79,399.64 L2376.92,398.31 L2382.05,396.97 L2387.18,395.64 L2392.31,394.30 L2397.44,392.96 L2402.56,391.62 L2407.69,390.27 L2412.82,388.93 L2417.95,387.58 L2423.08,386.23 L2428.21,384.88 L2433.33,383.53 L2438.46,382.18 L2443.59,380.82 L2448.72,379.46 L2453.85,378.10 L2458.97,376.74 L2464.10,375.37 L2469.23,374.01 L2474.36,372.64 L2479.49,371.27 L2484.62,369.90 L2489.74,368.53 L2494.87,367.15 L2500.00,365.78 L2505.13,364.40 L2510.26,363.02 L2515.38,361.64 L2520.51,360.25 L2525.64,358.87 L2530.77,357.48 L2535.90,356.09 L2541.03,354.70 L2546.15,353.30 L2551.28,351.91 L2556.41,350.51 L2561.54,349.11 L2566.67,347.71 L2571.79,346.31 L2576.92,344.90 L2582.05,343.49 L2587.18,342.08 L2592.31,340.67 L2597.44,339.26 L2598.33,339.01" stroke="#00B050" stroke-width="6.8" stroke-linecap="round"/>
<path d="M388.46,730.50 L389.74,730.50 L391.03,730.50 L392.31,730.50 L393.59,730.50 L394.87,730.50 L396.15,730.50 L397.44,730.50 L398.72,730.50 L400.00,730.50 L401.28,730.50 L402.56,730.50 L403.85,730.50 L405.13,730.50 L406.41,730.50 L407.69,730.50 L408.97,730.50 L410.26,730.50 L411.54,730.50 L412.82,730.50 L414.10,730.50 L415.38,730.50 L416.67,730.50 L417.95,730.50 L419.23,730.50 L420.51,730.50 L421.79,730.50 L423.08,730.50 L424.36,730.50 L425.64,730.50 L426.92,730.50 L428.21,730.50 L429.49,730.50 L430.77,730.50 L432.05,730.50 L433.33,730.50 L434.62,730.50 L435.90,730.50 L437.18,730.50 L438.46,730.50 L439.74,730.50 L441.03,730.50 L442.31,730.50 L443.59,730.50 L444.87,730.50 L446.15,730.50 L447.44,730.50 L448.72,730.50 L450.00,730.50 L451.28,730.50 L452.56,730.50 L453.85,730.50 L455.13,730.50 L456.41,730.50 L457.69,730.50 L458.97,730.50 L460.26,730.50 L461.54,730.50 L462.82,730.50 L464.10,730.50 L465.38,730.50 L466.67,730.50 L467.95,730.50 L469.23,730.50 L470.51,730.50 L471.79,730.50 L473.08,730.50 L474.36,730.50 L475.64,730.50 L476.92,730.50 L478.21,730.50 L479.49,730.50 L480.77,730.50 L482.05,730.50 L483.33,730.50 L484.62,730.50 L485.90,730.50 L487.18,730.50 L488.46,730.50 L489.74,730.50 L491.03,730.50 L492.31,730.50 L493.59,730.50 L494.87,730.50 L496.15,730.50 L497.44,730.50 L498.72,730.50 L500.00,730.50 L501.28,730.50 L502.56,730.50 L503.85,730.50 L505.13,730.50 L506.41,730.50 L507.69,730.50 L508.97,730.50 L510.26,730.50 L511.54,730.50 L512.82,730.50 L514.10,730.50 L515.38,730.50 L516.67,730.50 L517.95,730.50 L519.23,730.50 L520.51,730.50 L521.79,730.50 L523.08,730.50 L524.36,730.50 L525.64,730.50 L526.92,730.50 L528.21,730.50 L529.49,730.50 L530.77,730.50 L532.05,730.50 L533.33,730.50 L534.62,730.50 L535.90,730.50 L537.18,730.50 L538.46,730.50 L539.74,730.50 L541.03,730.50 L542.31,730.50 L543.59,730.50 L544.87,730.50 L546.15,730.50 L547.44,730.50 L548.72,730.50 L550.00,730.50 L551.28,730.50 L552.56,730.50 L553.85,730.50 L555.13,730.50 L556.41,730.50 L557.69,730.50 L558.97,730.50 L560.26,730.50 L561.54,730.50 L562.82,730.50 L564.10,730.50 L565.38,730.50 L566.67,730.50 L567.95,730.50 L569.23,730.50 L570.51,730.50 L571.79,730.50 L573.08,730.50 L574.36,730.50 L575.64,730.50 L576.92,730.50 L578.21,730.50 L579.49,730.50 L580.77,730.50 L582.05,730.50 L583.33,730.50 L584.62,730.50 L585.90,730.50 L587.18,730.50 L588.46,730.50 L589.74,730.50 L591.03,730.50 L592.31,730.50 L593.59,730.50 L594.87,730.50 L596.15,730.50 L597.44,730.50 L598.72,730.50 L600.00,730.50 L601.28,730.50 L602.56,730.50 L603.85,730.50 L605.13,730.50 L606.41,730.50 L607.69,730.50 L608.97,730.50 L610.26,730.50 L611.54,730.50 L612.82,730.50 L614.10,730.50 L615.38,730.50 L616.67,730.50 L617.95,730.50 L619.23,730.50 L620.51,730.50 L621.79,730.50 L623.08,730.50 L624.36,730.50 L625.64,730.50 L626.92,730.50 L628.21,730.50 L629.49,730.50 L630.77,730.50 L632.05,730.50 L633.33,730.50 L634.62,730.50 L635.90,730.50 L637.18,730.50 L638.46,730.50 L639.74,730.50 L641.03,730.50 L642.31,730.50 L643.59,730.50 L644.87,730.50 L646.15,730.50 L647.44,730.50 L648.72,730.50 L650.00,730.50 L651.28,730.50 L652.56,730.50 L653.85,730.50 L655.13,730.50 L656.41,730.50 L657.69,730.50 L658.97,730.50 L660.26,730.50 L661.54,730.50 L662.82,730.50 L664.10,730.50 L665.38,730.50 L666.67,730.50 L667.95,730.50 L669.23,730.50 L670.51,730.50 L671.79,730.50 L673.08,730.50 L674.36,730.50 L675.64,730.50 L676.92,730.50 L678.21,730.50 L679.49,730.50 L680.77,730.50 L682.05,730.50 L683.33,730.50 L684.62,730.50 L685.90,730.50 L687.18,730.50 L688.46,730.50 L689.74,730.50 L691.03,730.50 L692.31,730.50 L693.59,730.50 L694.87,730.50 L696.15,730.50 L697.44,730.50 L698.72,730.50 L700.00,730.50 L701.28,730.50 L702.56,730.50 L703.85,730.50 L705.13,730.50 L706.41,730.50 L707.69,730.50 L708.97,730.50 L710.26,730.50 L711.54,730.50 L712.82,730.50 L714.10,730.50 L715.38,730.50 L716.67,730.50 L717.95,730.50 L719.23,730.50 L720.51,730.50 L721.79,730.50 L723.08,730.50 L724.36,730.50 L725.64,730.50 L726.92,730.50 L728.21,730.50 L729.49,730.50 L730.77,730.50 L732.05,730.50 L733.33,730.50 L734.62,730.50 L735.90,730.50 L737.18,730.50 L738.46,730.50 L739.74,730.50 L741.03,730.50 L742.31,730.50 L743.59,730.50 L744.87,730.50 L746.15,730.50 L747.44,730.50 L748.72,730.50 L750.00,730.50 L751.28,730.50 L752.56,730.50 L753.85,730.50 L755.13,730.50 L756.41,730.50 L757.69,730.50 L758.97,730.50 L760.26,730.50 L761.54,730.50 L762.82,730.50 L764.10,730.50 L765.38,730.50 L766.67,730.50 L767.95,730.50 L769.23,730.50 L770.51,730.50 L771.79,730.50 L773.08,730.50 L774.36,730.50 L775.64,730.50 L776.92,730.50 L778.21,730.50 L779.49,730.50 L780.77,730.50 L782.05,730.50 L783.33,730.50 L784.62,730.50 L785.90,730.50 L787.18,730.50 L788.46,730.50 L789.74,730.50 L791.03,730.50 L792.31,730.50 L793.59,730.50 L794.87,730.50 L796.15,730.50 L797.44,730.50 L798.72,730.50 L800.00,730.50 L801.28,730.50 L802.56,730.50 L803.85,730.50 L805.13,730.50 L806.41,730.50 L807.69,730.50 L808.97,730.50 L810.26,730.50 L811.54,730.50 L812.82,730.50 L814.10,730.50 L815.38,730.50 L816.67,730.50 L817.95,730.50 L819.23,730.50 L820.51,730.50 L821.79,730.50 L823.08,730.50 L824.36,730.50 L825.64,730.50 L826.92,730.50 L828.21,730.50 L829.49,730.50 L830.77,730.50 L832.05,730.50 L833.33,730.50 L834.62,730.50 L835.90,730.50 L837.18,730.50 L838.46,730.50 L839.74,730.50 L841.03,730.50 L842.31,730.50 L843.59,730.50 L844.87,730.50 L846.15,730.50 L847.44,730.50 L848.72,730.50 L850.00,730.50 L851.28,730.50 L852.56,730.50 L853.85,730.50 L855.13,730.50 L856.41,730.50 L857.69,730.50 L858.97,730.50 L860.26,730.50 L861.54,730.50 L862.82,730.50 L864.10,730.50 L865.38,730.50 L866.67,730.50 L867.95,730.50 L869.23,730.50 L870.51,730.50 L871.79,730.50 L873.08,730.50 L874.36,730.50 L875.64,730.50 L876.92,730.50 L878.21,730.50 L879.49,730.50 L880.77,730.50 L882.05,730.50 L883.33,730.50 L884.62,730.50 L885.90,730.50 L887.18,730.50 L888.46,730.50 L889.74,730.50 L891.03,730.50 L892.31,730.50 L893.59,730.50 L894.87,730.50 L896.15,730.50 L897.44,730.50 L898.72,730.50 L900.00,730.50 L901.28,730.50 L902.56,730.50 L903.85,730.50 L905.13,730.50 L906.41,730.50 L907.69,730.50 L908.97,730.50 L910.26,730.50 L911.54,730.50 L912.82,730.50 L914.10,730.50 L915.38,730.50 L916.67,730.50 L917.95,730.50 L919.23,730.50 L920.51,730.50 L921.79,730.50 L923.08,730.50 L924.36,730.50 L925.64,730.50 L926.92,730.50 L928.21,730.50 L929.49,730.50 L930.77,730.50 L932.05,730.50 L933.33,730.50 L934.62,730.50 L935.90,730.50 L937.18,730.50 L938.46,730.50 L939.74,730.50 L941.03,730.50 L942.31,730.50 L943.59,730.50 L944.87,730.50 L946.15,730.50 L947.44,730.50 L948.72,730.50 L950.00,730.50 L951.28,730.50 L952.56,730.50 L953.85,730.50 L955.13,730.50 L956.41,730.50 L957.69,730.50 L958.97,730.50 L960.26,730.50 L961.54,730.50 L962.82,730.50 L964.10,730.50 L965.38,730.50 L966.67,730.50 L967.95,730.50 L969.23,730.50 L970.51,730.50 L971.79,730.50 L973.08,730.50 L974.36,730.50 L975.64,730.50 L976.92,730.50 L978.21,730.50 L979.49,730.50 L980.77,730.50 L982.05,730.50 L983.33,730.50 L984.62,730.50 L985.90,730.50 L987.18,730.50 L988.46,730.50 L989.74,730.50 L991.03,730.50 L992.31,730.50 L993.59,730.50 L994.87,730.50 L996.15,730.50 L997.44,730.50 L998.72,730.50 L1000.00,730.50 L1001.28,730.50 L1002.56,730.50 L1003.85,730.50 L1005.13,730.50 L1006.41,730.50 L1007.69,730.50 L1008.97,730.50 L1010.26,730.50 L1011.54,730.50 L1012.82,730.50 L1014.10,730.50 L1015.38,730.50 L1016.67,730.50 L1017.95,730.50 L1019.23,730.50 L1020.51,730.50 L1021.79,730.50 L1023.08,730.50 L1024.36,730.50 L1025.64,730.50 L1026.92,730.50 L1028.21,730.50 L1029.49,730.50 L1030.77,730.50 L1032.05,730.50 L1033.33,730.50 L1034.62,730.50 L1035.90,730.50 L1037.18,730.50 L1038.46,730.50 L1039.74,730.50 L1041.03,730.50 L1042.31,730.49 L1043.59,730.49 L1044.87,730.49 L1046.15,730.49 L1047.44,730.49 L1048.72,730.48 L1050.00,730.48 L1051.28,730.47 L1052.56,730.46 L1053.85,730.46 L1055.13,730.44 L1056.41,730.43 L1057.69,730.41 L1058.97,730.39 L1060.26,730.36 L1061.54,730.33 L1062.82,730.29 L1064.10,730.23 L1065.38,730.17 L1066.67,730.09 L1067.95,729.98 L1069.23,729.89 L1070.51,729.82 L1071.79,729.76 L1073.08,729.71 L1074.36,729.66 L1075.64,729.63 L1076.92,729.59 L1078.21,729.57 L1079.49,729.54 L1080.77,729.52 L1082.05,729.50 L1083.33,729.48 L1084.62,729.46 L1085.90,729.45 L1087.18,729.43 L1088.46,729.41 L1089.74,729.40 L1091.03,729.39 L1092.31,729.37 L1093.59,729.36 L1094.87,729.35 L1096.15,729.33 L1097.44,729.32 L1098.72,729.31 L1100.00,729.30 L1101.28,729.29 L1102.56,729.27 L1103.85,729.26 L1105.13,729.25 L1106.41,729.24 L1107.69,729.22 L1108.97,729.21 L1110.26,729.20 L1111.54,729.19 L1112.82,729.17 L1114.10,729.16 L1115.38,729.15 L1116.67,729.14 L1117.95,729.12 L1119.23,729.11 L1120.51,729.09 L1121.79,729.08 L1123.08,729.06 L1124.36,729.04 L1125.64,729.03 L1126.92,729.01 L1128.21,728.98 L1129.49,728.96 L1130.77,728.93 L1132.05,728.90 L1133.33,728.87 L1134.62,728.82 L1135.90,728.77 L1137.18,728.71 L1138.46,728.64 L1139.74,728.56 L1141.03,728.46 L1142.31,728.33 L1143.59,728.17 L1144.87,727.98 L1146.15,727.75 L1147.44,727.46 L1148.72,727.10 L1150.00,726.66 L1151.28,726.10 L1152.56,725.41 L1153.85,724.58 L1155.13,723.85 L1156.41,723.27 L1157.69,722.80 L1158.97,722.41 L1160.26,722.11 L1161.54,721.86 L1162.82,721.65 L1164.10,721.49 L1165.38,721.35 L1166.67,721.24 L1167.95,721.14 L1169.23,721.06 L1170.51,720.99 L1171.79,720.92 L1173.08,720.86 L1174.36,720.80 L1175.64,720.74 L1176.92,720.68 L1178.21,720.62 L1179.49,720.54 L1180.77,720.46 L1182.05,720.36 L1183.33,720.24 L1184.62,720.10 L1185.90,719.93 L1187.18,719.73 L1188.46,719.47 L1189.74,719.16 L1191.03,718.77 L1192.31,718.28 L1193.59,717.68 L1194.87,716.93 L1196.15,716.00 L1197.44,714.94 L1198.72,714.06 L1200.00,713.35 L1201.28,712.78 L1202.56,712.32 L1203.85,711.95 L1205.13,711.65 L1206.41,711.40 L1207.69,711.20 L1208.97,711.04 L1210.26,710.90 L1211.54,710.78 L1212.82,710.68 L1214.10,710.59 L1215.38,710.51 L1216.67,710.43 L1217.95,710.35 L1219.23,710.27 L1220.51,710.19 L1221.79,710.09 L1223.08,709.99 L1224.36,709.86 L1225.64,709.71 L1226.92,709.53 L1228.21,709.31 L1229.49,709.04 L1230.77,708.71 L1232.05,708.30 L1233.33,707.79 L1234.62,707.16 L1235.90,706.37 L1237.18,705.40 L1238.46,704.18 L1239.74,702.67 L1241.03,701.06 L1242.31,699.78 L1243.59,698.75 L1244.87,697.92 L1246.15,697.26 L1247.44,696.72 L1248.72,696.29 L1250.00,695.94 L1251.28,695.65 L1252.56,695.42 L1253.85,695.23 L1255.13,695.08 L1256.41,694.95 L1257.69,694.84 L1258.97,694.74 L1260.26,694.66 L1261.54,694.58 L1262.82,694.51 L1264.10,694.43 L1265.38,694.36 L1266.67,694.28 L1267.95,694.19 L1269.23,694.10 L1270.51,693.98 L1271.79,693.84 L1273.08,693.68 L1274.36,693.48 L1275.64,693.23 L1276.92,692.93 L1278.21,692.56 L1279.49,692.10 L1280.77,691.52 L1282.05,690.81 L1283.33,689.93 L1284.62,689.09 L1285.90,688.42 L1287.18,687.88 L1288.46,687.44 L1289.74,687.09 L1291.03,686.81 L1292.31,686.58 L1293.59,686.39 L1294.87,686.23 L1296.15,686.11 L1297.44,686.00 L1298.72,685.91 L1300.00,685.83 L1301.28,685.77 L1302.56,685.71 L1303.85,685.65 L1305.13,685.60 L1306.41,685.54 L1307.69,685.49 L1308.97,685.43 L1310.26,685.36 L1311.54,685.28 L1312.82,685.20 L1314.10,685.09 L1315.38,684.96 L1316.67,684.81 L1317.95,684.63 L1319.23,684.40 L1320.51,684.12 L1321.79,683.77 L1323.08,683.34 L1324.36,682.81 L1325.64,682.14 L1326.92,681.34 L1328.21,680.64 L1329.49,680.08 L1330.77,679.62 L1332.05,679.26 L1333.33,678.96 L1334.62,678.72 L1335.90,678.53 L1337.18,678.37 L1338.46,678.23 L1339.74,678.12 L1341.03,678.03 L1342.31,677.95 L1343.59,677.88 L1344.87,677.82 L1346.15,677.76 L1347.44,677.71 L1348.72,677.65 L1350.00,677.60 L1351.28,677.54 L1352.56,677.47 L1353.85,677.39 L1355.13,677.30 L1356.41,677.19 L1357.69,677.07 L1358.97,676.91 L1360.26,676.72 L1361.54,676.49 L1362.82,676.21 L1364.10,675.85 L1365.38,675.42 L1366.67,674.88 L1367.95,674.20 L1369.23,673.36 L1370.51,672.40 L1371.79,671.61 L1373.08,670.97 L1374.36,670.46 L1375.64,670.05 L1376.92,669.71 L1378.21,669.44 L1379.49,669.22 L1380.77,669.04 L1382.05,668.89 L1383.33,668.77 L1384.62,668.67 L1385.90,668.58 L1387.18,668.50 L1388.46,668.43 L1389.74,668.37 L1391.03,668.31 L1392.31,668.24 L1393.59,668.18 L1394.87,668.11 L1396.15,668.04 L1397.44,667.95 L1398.72,667.85 L1400.00,667.73 L1401.28,667.59 L1402.56,667.41 L1403.85,667.20 L1405.13,666.94 L1406.41,666.61 L1407.69,666.21 L1408.97,665.72 L1410.26,665.10 L1411.54,664.34 L1412.82,663.38 L1414.10,662.38 L1415.38,661.57 L1416.67,660.92 L1417.95,660.39 L1419.23,659.97 L1420.51,659.63 L1421.79,659.35 L1423.08,659.13 L1424.36,658.94 L1425.64,658.79 L1426.92,658.66 L1428.21,658.56 L1429.49,658.46 L1430.77,658.38 L1432.05,658.30 L1433.33,658.23 L1434.62,658.16 L1435.90,658.09 L1437.18,658.02 L1438.46,657.93 L1439.74,657.84 L1441.03,657.72 L1442.31,657.59 L1443.59,657.43 L1444.87,657.24 L1446.15,657.00 L1447.44,656.71 L1448.72,656.36 L1450.00,655.92 L1451.28,655.37 L1452.56,654.69 L1453.85,653.84 L1455.13,652.78 L1456.41,651.47 L1457.69,650.23 L1458.97,649.23 L1460.26,648.43 L1461.54,647.78 L1462.82,647.26 L1464.10,646.84 L1465.38,646.50 L1466.67,646.23 L1467.95,646.01 L1469.23,645.82 L1470.51,645.67 L1471.79,645.54 L1473.08,645.44 L1474.36,645.34 L1475.64,645.26 L1476.92,645.19 L1478.21,645.12 L1479.49,645.05 L1480.77,644.97 L1482.05,644.90 L1483.33,644.81 L1484.62,644.72 L1485.90,644.60 L1487.18,644.47 L1488.46,644.31 L1489.74,644.12 L1491.03,643.88 L1492.31,643.59 L1493.59,643.23 L1494.87,642.78 L1496.15,642.23 L1497.44,641.54 L1498.72,640.69 L1500.00,639.65 L1501.28,638.75 L1502.56,638.03 L1503.85,637.44 L1505.13,636.97 L1506.41,636.59 L1507.69,636.29 L1508.97,636.04 L1510.26,635.83 L1511.54,635.67 L1512.82,635.53 L1514.10,635.41 L1515.38,635.31 L1516.67,635.23 L1517.95,635.15 L1519.23,635.08 L1520.51,635.01 L1521.79,634.95 L1523.08,634.88 L1524.36,634.80 L1525.64,634.72 L1526.92,634.62 L1528.21,634.51 L1529.49,634.38 L1530.77,634.22 L1532.05,634.03 L1533.33,633.79 L1534.62,633.50 L1535.90,633.15 L1537.18,632.70 L1538.46,632.15 L1539.74,631.47 L1541.03,630.62 L1542.31,629.56 L1543.59,628.35 L1544.87,627.35 L1546.15,626.54 L1547.44,625.89 L1548.72,625.37 L1550.00,624.95 L1551.28,624.61 L1552.56,624.34 L1553.85,624.11 L1555.13,623.93 L1556.41,623.77 L1557.69,623.64 L1558.97,623.54 L1560.26,623.44 L1561.54,623.36 L1562.82,623.28 L1564.10,623.20 L1565.38,623.13 L1566.67,623.05 L1567.95,622.96 L1569.23,622.87 L1570.51,622.76 L1571.79,622.63 L1573.08,622.48 L1574.36,622.30 L1575.64,622.07 L1576.92,621.80 L1578.21,621.46 L1579.49,621.04 L1580.77,620.52 L1582.05,619.87 L1583.33,619.07 L1584.62,618.07 L1585.90,616.83 L1587.18,615.51 L1588.46,614.46 L1589.74,613.61 L1591.03,612.93 L1592.31,612.38 L1593.59,611.94 L1594.87,611.58 L1596.15,611.29 L1597.44,611.05 L1598.72,610.86 L1600.00,610.70 L1601.28,610.57 L1602.56,610.46 L1603.85,610.36 L1605.13,610.27 L1606.41,610.19 L1607.69,610.12 L1608.97,610.04 L1610.26,609.97 L1611.54,609.89 L1612.82,609.80 L1614.10,609.70 L1615.38,609.58 L1616.67,609.43 L1617.95,609.26 L1619.23,609.06 L1620.51,608.80 L1621.79,608.49 L1623.08,608.10 L1624.36,607.63 L1625.64,607.04 L1626.92,606.30 L1628.21,605.38 L1629.49,604.24 L1630.77,603.16 L1632.05,602.30 L1633.33,601.60 L1634.62,601.04 L1635.90,600.59 L1637.18,600.22 L1638.46,599.93 L1639.74,599.69 L1641.03,599.49 L1642.31,599.32 L1643.59,599.19 L1644.87,599.07 L1646.15,598.98 L1647.44,598.89 L1648.72,598.81 L1650.00,598.73 L1651.28,598.66 L1652.56,598.58 L1653.85,598.50 L1655.13,598.41 L1656.41,598.31 L1657.69,598.19 L1658.97,598.05 L1660.26,597.88 L1661.54,597.68 L1662.82,597.43 L1664.10,597.12 L1665.38,596.74 L1666.67,596.27 L1667.95,595.69 L1669.23,594.96 L1670.51,594.06 L1671.79,592.94 L1673.08,591.58 L1674.36,590.39 L1675.64,589.44 L1676.92,588.67 L1678.21,588.06 L1679.49,587.56 L1680.77,587.16 L1682.05,586.83 L1683.33,586.57 L1684.62,586.35 L1685.90,586.18 L1687.18,586.03 L1688.46,585.90 L1689.74,585.79 L1691.03,585.70 L1692.31,585.61 L1693.59,585.53 L1694.87,585.45 L1696.15,585.37 L1697.44,585.28 L1698.72,585.18 L1700.00,585.07 L1701.28,584.94 L1702.56,584.78 L1703.85,584.60 L1705.13,584.37 L1706.41,584.09 L1707.69,583.75 L1708.97,583.33 L1710.26,582.81 L1711.54,582.16 L1712.82,581.35 L1714.10,580.35 L1715.38,579.10 L1716.67,577.66 L1717.95,576.48 L1719.23,575.53 L1720.51,574.76 L1721.79,574.15 L1723.08,573.65 L1724.36,573.25 L1725.64,572.93 L1726.92,572.66 L1728.21,572.44 L1729.49,572.27 L1730.77,572.12 L1732.05,571.99 L1733.33,571.88 L1734.62,571.78 L1735.90,571.69 L1737.18,571.60 L1738.46,571.52 L1739.74,571.43 L1741.03,571.33 L1742.31,571.22 L1743.59,571.09 L1744.87,570.95 L1746.15,570.77 L1747.44,570.55 L1748.72,570.29 L1750.00,569.97 L1751.28,569.58 L1752.56,569.09 L1753.85,568.48 L1755.13,567.72 L1756.41,566.78 L1757.69,565.61 L1758.97,564.16 L1760.26,562.62 L1761.54,561.38 L1762.82,560.39 L1764.10,559.59 L1765.38,558.95 L1766.67,558.43 L1767.95,558.01 L1769.23,557.67 L1770.51,557.40 L1771.79,557.17 L1773.08,556.98 L1774.36,556.82 L1775.64,556.69 L1776.92,556.57 L1778.21,556.46 L1779.49,556.36 L1780.77,556.27 L1782.05,556.17 L1783.33,556.06 L1784.62,555.95 L1785.90,555.82 L1787.18,555.67 L1788.46,555.48 L1789.74,555.27 L1791.03,555.00 L1792.31,554.68 L1793.59,554.28 L1794.87,553.79 L1796.15,553.17 L1797.44,552.41 L1798.72,551.47 L1800.00,550.29 L1801.28,548.83 L1802.56,547.00 L1803.85,545.27 L1805.13,543.88 L1806.41,542.77 L1807.69,541.88 L1808.97,541.16 L1810.26,540.58 L1811.54,540.11 L1812.82,539.73 L1814.10,539.42 L1815.38,539.17 L1816.67,538.96 L1817.95,538.79 L1819.23,538.64 L1820.51,538.51 L1821.79,538.40 L1823.08,538.29 L1824.36,538.19 L1825.64,538.09 L1826.92,537.99 L1828.21,537.87 L1829.49,537.75 L1830.77,537.60 L1832.05,537.42 L1833.33,537.21 L1834.62,536.96 L1835.90,536.65 L1837.18,536.26 L1838.46,535.79 L1839.74,535.20 L1841.03,534.48 L1842.31,533.57 L1843.59,532.45 L1844.87,531.05 L1846.15,529.35 L1847.44,527.87 L1848.72,526.69 L1850.00,525.73 L1851.28,524.97 L1852.56,524.35 L1853.85,523.86 L1855.13,523.46 L1856.41,523.14 L1857.69,522.88 L1858.97,522.67 L1860.26,522.50 L1861.54,522.36 L1862.82,522.24 L1864.10,522.15 L1865.38,522.07 L1866.67,522.01 L1867.95,521.95 L1869.23,521.90 L1870.51,521.86 L1871.79,521.83 L1873.08,521.79 L1874.36,521.76 L1875.64,521.73 L1876.92,521.71 L1878.21,521.68 L1879.49,521.65 L1880.77,521.62 L1882.05,521.58 L1883.33,521.55 L1884.62,521.50 L1885.90,521.45 L1887.18,521.40 L1888.46,521.33 L1889.74,521.25 L1891.03,521.19 L1892.31,521.13 L1893.59,521.09 L1894.87,521.05 L1896.15,521.02 L1897.44,520.99 L1898.72,520.96 L1900.00,520.94 L1901.28,520.92 L1902.56,520.90 L1903.85,520.88 L1905.13,520.86 L1906.41,520.85 L1907.69,520.83 L1908.97,520.82 L1910.26,520.80 L1911.54,520.79 L1912.82,520.77 L1914.10,520.76 L1915.38,520.74 L1916.67,520.72 L1917.95,520.71 L1919.23,520.69 L1920.51,520.67 L1921.79,520.65 L1923.08,520.62 L1924.36,520.59 L1925.64,520.56 L1926.92,520.53 L1928.21,520.49 L1929.49,520.44 L1930.77,520.38 L1932.05,520.31 L1933.33,520.23 L1934.62,520.17 L1935.90,520.12 L1937.18,520.07 L1938.46,520.03 L1939.74,519.99 L1941.03,519.96 L1942.31,519.93 L1943.59,519.90 L1944.87,519.87 L1946.15,519.84 L1947.44,519.81 L1948.72,519.78 L1950.00,519.74 L1951.28,519.70 L1952.56,519.65 L1953.85,519.60 L1955.13,519.53 L1956.41,519.46 L1957.69,519.36 L1958.97,519.25 L1960.26,519.11 L1961.54,518.94 L1962.82,518.73 L1964.10,518.47 L1965.38,518.15 L1966.67,517.75 L1967.95,517.26 L1969.23,516.65 L1970.51,515.89 L1971.79,514.94 L1973.08,513.76 L1974.36,512.28 L1975.64,510.45 L1976.92,508.71 L1978.21,507.31 L1979.49,506.20 L1980.77,505.29 L1982.05,504.57 L1983.33,503.99 L1984.62,503.52 L1985.90,503.13 L1987.18,502.82 L1988.46,502.57 L1989.74,502.35 L1991.03,502.18 L1992.31,502.03 L1993.59,501.89 L1994.87,501.77 L1996.15,501.66 L1997.44,501.55 L1998.72,501.44 L2000.00,501.32 L2001.28,501.19 L2002.56,501.05 L2003.85,500.87 L2005.13,500.67 L2006.41,500.42 L2007.69,500.12 L2008.97,499.74 L2010.26,499.29 L2011.54,498.72 L2012.82,498.01 L2014.10,497.14 L2015.38,496.05 L2016.67,494.70 L2017.95,493.01 L2019.23,490.97 L2020.51,489.18 L2021.79,487.75 L2023.08,486.60 L2024.36,485.68 L2025.64,484.94 L2026.92,484.34 L2028.21,483.86 L2029.49,483.46 L2030.77,483.14 L2032.05,482.88 L2033.33,482.66 L2034.62,482.48 L2035.90,482.32 L2037.18,482.18 L2038.46,482.05 L2039.74,481.94 L2041.03,481.82 L2042.31,481.70 L2043.59,481.56 L2044.87,481.42 L2046.15,481.25 L2047.44,481.05 L2048.72,480.82 L2050.00,480.53 L2051.28,480.18 L2052.56,479.76 L2053.85,479.23 L2055.13,478.57 L2056.41,477.76 L2057.69,476.74 L2058.97,475.48 L2060.26,473.91 L2061.54,471.96 L2062.82,469.71 L2064.10,467.86 L2065.38,466.37 L2066.67,465.18 L2067.95,464.22 L2069.23,463.45 L2070.51,462.83 L2071.79,462.32 L2073.08,461.92 L2074.36,461.58 L2075.64,461.31 L2076.92,461.09 L2078.21,460.90 L2079.49,460.73 L2080.77,460.59 L2082.05,460.46 L2083.33,460.34 L2084.62,460.22 L2085.90,460.09 L2087.18,459.96 L2088.46,459.81 L2089.74,459.64 L2091.03,459.43 L2092.31,459.19 L2093.59,458.90 L2094.87,458.55 L2096.15,458.11 L2097.44,457.57 L2098.72,456.90 L2100.00,456.06 L2101.28,455.03 L2102.56,453.74 L2103.85,452.14 L2105.13,450.14 L2106.41,448.02 L2107.69,446.33 L2108.97,444.97 L2110.26,443.88 L2111.54,443.00 L2112.82,442.30 L2114.10,441.73 L2115.38,441.27 L2116.67,440.90 L2117.95,440.60 L2119.23,440.35 L2120.51,440.15 L2121.79,439.98 L2123.08,439.84 L2124.36,439.72 L2125.64,439.62 L2126.92,439.52 L2128.21,439.44 L2129.49,439.35 L2130.77,439.26 L2132.05,439.17 L2133.33,439.07 L2134.62,438.96 L2135.90,438.82 L2137.18,438.67 L2138.46,438.48 L2139.74,438.25 L2141.03,437.97 L2142.31,437.63 L2143.59,437.21 L2144.87,436.68 L2146.15,436.03 L2147.44,435.22 L2148.72,434.21 L2150.00,433.26 L2151.28,432.49 L2152.56,431.87 L2153.85,431.38 L2155.13,430.98 L2156.41,430.65 L2157.69,430.38 L2158.97,430.17 L2160.26,429.99 L2161.54,429.84 L2162.82,429.71 L2164.10,429.60 L2165.38,429.51 L2166.67,429.42 L2167.95,429.33 L2169.23,429.25 L2170.51,429.16 L2171.79,429.06 L2173.08,428.96 L2174.36,428.84 L2175.64,428.70 L2176.92,428.53 L2178.21,428.32 L2179.49,428.07 L2180.77,427.76 L2182.05,427.39 L2183.33,426.92 L2184.62,426.34 L2185.90,425.62 L2187.18,424.73 L2188.46,423.61 L2189.74,422.22 L2191.03,420.49 L2192.31,418.40 L2193.59,416.57 L2194.87,415.10 L2196.15,413.93 L2197.44,412.98 L2198.72,412.22 L2200.00,411.61 L2201.28,411.11 L2202.56,410.71 L2203.85,410.39 L2205.13,410.12 L2206.41,409.90 L2207.69,409.72 L2208.97,409.57 L2210.26,409.44 L2211.54,409.32 L2212.82,409.21 L2214.10,409.11 L2215.38,409.01 L2216.67,408.90 L2217.95,408.79 L2219.23,408.67 L2220.51,408.52 L2221.79,408.35 L2223.08,408.15 L2224.36,407.90 L2225.64,407.61 L2226.92,407.24 L2228.21,406.78 L2229.49,406.22 L2230.77,405.52 L2232.05,404.66 L2233.33,403.58 L2234.62,402.24 L2235.90,400.70 L2237.18,399.43 L2238.46,398.41 L2239.74,397.59 L2241.03,396.93 L2242.31,396.39 L2243.59,395.96 L2244.87,395.62 L2246.15,395.33 L2247.44,395.10 L2248.72,394.91 L2250.00,394.75 L2251.28,394.62 L2252.56,394.50 L2253.85,394.40 L2255.13,394.30 L2256.41,394.21 L2257.69,394.12 L2258.97,394.03 L2260.26,393.93 L2261.54,393.82 L2262.82,393.69 L2264.10,393.54 L2265.38,393.36 L2266.67,393.14 L2267.95,392.87 L2269.23,392.54 L2270.51,392.14 L2271.79,391.64 L2273.08,391.02 L2274.36,390.25 L2275.64,389.29 L2276.92,388.10 L2278.21,386.61 L2279.49,385.04 L2280.77,383.78 L2282.05,382.77 L2283.33,381.96 L2284.62,381.30 L2285.90,380.77 L2287.18,380.35 L2288.46,380.00 L2289.74,379.72 L2291.03,379.49 L2292.31,379.30 L2293.59,379.14 L2294.87,379.01 L2296.15,378.89 L2297.44,378.79 L2298.72,378.69 L2300.00,378.60 L2301.28,378.51 L2302.56,378.41 L2303.85,378.31 L2305.13,378.20 L2306.41,378.06 L2307.69,377.91 L2308.97,377.72 L2310.26,377.49 L2311.54,377.21 L2312.82,376.87 L2314.10,376.45 L2315.38,375.93 L2316.67,375.28 L2317.95,374.48 L2319.23,373.48 L2320.51,372.24 L2321.79,370.69 L2323.08,369.22 L2324.36,368.04 L2325.64,367.10 L2326.92,366.34 L2328.21,365.73 L2329.49,365.23 L2330.77,364.83 L2332.05,364.51 L2333.33,364.25 L2334.62,364.03 L2335.90,363.85 L2337.18,363.70 L2338.46,363.57 L2339.74,363.46 L2341.03,363.36 L2342.31,363.27 L2343.59,363.18 L2344.87,363.08 L2346.15,362.99 L2347.44,362.88 L2348.72,362.76 L2350.00,362.62 L2351.28,362.46 L2352.56,362.26 L2353.85,362.03 L2355.13,361.73 L2356.41,361.37 L2357.69,360.93 L2358.97,360.38 L2360.26,359.70 L2361.54,358.85 L2362.82,357.80 L2364.10,356.48 L2365.38,354.89 L2366.67,353.50 L2367.95,352.39 L2369.23,351.49 L2370.51,350.77 L2371.79,350.19 L2373.08,349.73 L2374.36,349.35 L2375.64,349.04 L2376.92,348.79 L2378.21,348.59 L2379.49,348.42 L2380.77,348.27 L2382.05,348.15 L2383.33,348.04 L2384.62,347.95 L2385.90,347.86 L2387.18,347.77 L2388.46,347.69 L2389.74,347.59 L2391.03,347.49 L2392.31,347.38 L2393.59,347.25 L2394.87,347.09 L2396.15,346.90 L2397.44,346.67 L2398.72,346.40 L2400.00,346.05 L2401.28,345.63 L2402.56,345.11 L2403.85,344.46 L2405.13,343.65 L2406.41,342.65 L2407.69,341.40 L2408.97,339.96 L2410.26,338.78 L2411.54,337.83 L2412.82,337.06 L2414.10,336.45 L2415.38,335.95 L2416.67,335.55 L2417.95,335.23 L2419.23,334.96 L2420.51,334.75 L2421.79,334.57 L2423.08,334.42 L2424.36,334.29 L2425.64,334.18 L2426.92,334.09 L2428.21,334.00 L2429.49,333.91 L2430.77,333.83 L2432.05,333.74 L2433.33,333.64 L2434.62,333.54 L2435.90,333.42 L2437.18,333.28 L2438.46,333.11 L2439.74,332.90 L2441.03,332.65 L2442.31,332.34 L2443.59,331.97 L2444.87,331.50 L2446.15,330.92 L2447.44,330.20 L2448.72,329.30 L2450.00,328.19 L2451.28,326.80 L2452.56,325.33 L2453.85,324.15 L2455.13,323.20 L2456.41,322.44 L2457.69,321.83 L2458.97,321.34 L2460.26,320.94 L2461.54,320.61 L2462.82,320.35 L2464.10,320.13 L2465.38,319.95 L2466.67,319.80 L2467.95,319.67 L2469.23,319.55 L2470.51,319.45 L2471.79,319.36 L2473.08,319.26 L2474.36,319.17 L2475.64,319.06 L2476.92,318.95 L2478.21,318.82 L2479.49,318.67 L2480.77,318.50 L2482.05,318.28 L2483.33,318.02 L2484.62,317.70 L2485.90,317.31 L2487.18,316.83 L2488.46,316.22 L2489.74,315.48 L2491.03,314.55 L2492.31,313.39 L2493.59,311.95 L2494.87,310.15 L2496.15,308.45 L2497.44,307.09 L2498.72,306.00 L2500.00,305.12 L2501.28,304.41 L2502.56,303.84 L2503.85,303.38 L2505.13,303.00 L2506.41,302.70 L2507.69,302.45 L2508.97,302.24 L2510.26,302.07 L2511.54,301.93 L2512.82,301.80 L2514.10,301.68 L2515.38,301.58 L2516.67,301.47 L2517.95,301.37 L2519.23,301.26 L2520.51,301.14 L2521.79,301.00 L2523.08,300.85 L2524.36,300.66 L2525.64,300.43 L2526.92,300.16 L2528.21,299.83 L2529.49,299.41 L2530.77,298.90 L2532.05,298.27 L2533.33,297.49 L2534.62,296.51 L2535.90,295.30 L2537.18,293.78 L2538.46,291.95 L2539.74,290.35 L2541.03,289.06 L2542.31,288.03 L2543.59,287.20 L2544.87,286.54 L2546.15,286.00 L2547.44,285.56 L2548.72,285.21 L2550.00,284.92 L2551.28,284.68 L2552.56,284.48 L2553.85,284.31 L2555.13,284.16 L2556.41,284.03 L2557.69,283.92 L2558.97,283.80 L2560.26,283.69 L2561.54,283.57 L2562.82,283.43 L2564.10,283.29 L2565.38,283.12 L2566.67,282.91 L2567.95,282.67 L2569.23,282.37 L2570.51,282.01 L2571.79,281.57 L2573.08,281.02 L2574.36,280.34 L2575.64,279.49 L2576.92,278.44 L2578.21,277.13 L2579.49,275.49 L2580.77,273.46 L2582.05,271.12 L2583.33,269.19 L2589.74,268.00 L2594.87,266.30 L2599.49,265.00" stroke="#000" stroke-width="6.0" stroke-linecap="butt"/>
<path d="M361.54,960.60 L361.54,730.50 L1067.44,730.50 L1067.44,729.60 L1153.21,728.80 L1153.21,721.00 L1196.47,720.60 L1196.47,710.60 L1239.74,710.20 L1239.74,694.70 L1283.01,694.30 L1283.01,685.80 L1326.28,685.40 L1326.28,677.90 L1369.55,677.50 L1369.55,668.50 L1412.82,668.10 L1412.82,658.40 L1456.09,658.00 L1456.09,645.30 L1499.36,644.90 L1499.36,635.20 L1542.63,634.80 L1542.63,623.40 L1585.90,623.00 L1585.90,610.30 L1629.17,609.90 L1629.17,598.90 L1672.44,598.50 L1672.44,585.70 L1715.71,585.30 L1715.71,571.80 L1758.97,571.40 L1758.97,556.50 L1802.24,556.10 L1802.24,538.40 L1845.51,538.00 L1845.51,522.00 L1888.78,521.60 L1888.78,521.00 L1932.05,520.60 L1932.05,520.00 L1975.32,519.60 L1975.32,501.80 L2018.59,501.40 L2018.59,482.10 L2061.86,481.70 L2061.86,460.50 L2105.13,460.10 L2105.13,439.60 L2148.40,439.20 L2148.40,429.50 L2191.67,429.10 L2191.67,409.30 L2234.94,408.90 L2234.94,394.40 L2278.21,394.00 L2278.21,378.80 L2321.47,378.40 L2321.47,363.40 L2364.74,363.00 L2364.74,348.00 L2408.01,347.60 L2408.01,334.10 L2451.28,333.70 L2451.28,319.50 L2494.55,319.10 L2494.55,301.70 L2537.82,301.30 L2537.82,284.00 L2581.09,283.60 L2581.09,261.60 L2599.49,261.20" stroke="#FF0000" stroke-width="6.9" stroke-linecap="butt" stroke-linejoin="round"/>
<path d="M185.26,222.7 L257.69,222.7" stroke="#00B050" stroke-width="6.7" stroke-linecap="round"/>
<path d="M185.90,352.6 L257.44,352.6" stroke="#000" stroke-width="5.9" stroke-linecap="round"/>
<path d="M185.26,439.2 L257.44,439.2" stroke="#FF0000" stroke-width="6.9" stroke-linecap="round"/>
</g>
<text x="208.4" y="232.10" font-size="29.8" fill="#44546A" textLength="433.3" lengthAdjust="spacingAndGlyphs" xml:space="preserve">Reg_Expo : y = 4,1 * exp( 2,3% *  X_an )</text>
<text x="208.4" y="275.40" font-size="29.8" fill="#44546A" textLength="205.6" lengthAdjust="spacingAndGlyphs" xml:space="preserve">Reg_Exp - 2*sigma</text>
<text x="208.4" y="318.70" font-size="29.8" fill="#44546A" textLength="203.8" lengthAdjust="spacingAndGlyphs" xml:space="preserve">Reg_Exp + 2 sigma</text>
<text x="208.4" y="362.00" font-size="29.8" fill="#44546A" textLength="137.6" lengthAdjust="spacingAndGlyphs" xml:space="preserve">FVgdma_57j</text>
<text x="208.4" y="405.30" font-size="29.8" fill="#44546A" textLength="158.7" lengthAdjust="spacingAndGlyphs" xml:space="preserve">Perfo. absolue</text>
<text x="208.4" y="448.60" font-size="29.8" fill="#44546A" textLength="99.3" lengthAdjust="spacingAndGlyphs" xml:space="preserve">FVADAM</text>
<rect x="832" y="1033.6" width="137" height="2.4" fill="#F8F690"/>
<rect x="1240" y="1033.6" width="146" height="2.4" fill="#F8F690"/>
</svg></body></html>
